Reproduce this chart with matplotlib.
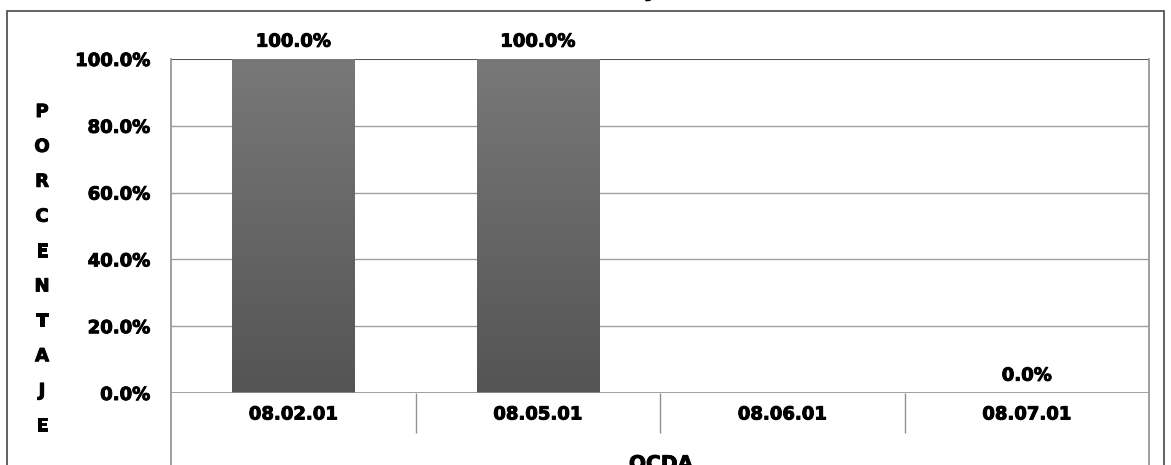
import matplotlib.pyplot as plt
from matplotlib.colors import LinearSegmentedColormap
from matplotlib.patches import Rectangle
from matplotlib.lines import Line2D
import matplotlib.patheffects as pe
import numpy as np

categories = ["08.02.01", "08.05.01", "08.06.01", "08.07.01"]
values = [100.0, 100.0, np.nan, 0.0]
yticks = [0, 20, 40, 60, 80, 100]
ylabel_letters = list("PORCENTAJE")

W, H = 1171, 465
fig = plt.figure(figsize=(W / 100, H / 100), dpi=100)
fig.patch.set_facecolor("white")

thick = [pe.withStroke(linewidth=0.7, foreground="black")]
font = dict(family="DejaVu Sans", weight="bold", path_effects=thick)

def fx(px):
    return px / W

def fy(py):
    return 1 - py / H

ax = fig.add_axes([fx(171), fy(393), fx(1149) - fx(171), fy(59) - fy(393)])

# outer frame
fig.patches.append(Rectangle((fx(7), fy(470)), fx(1164) - fx(7), fy(11) - fy(470),
                             transform=fig.transFigure, fill=False,
                             edgecolor="#555555", linewidth=1.3))

# grid
for t in yticks[1:-1]:
    ax.axhline(t, color="#a0a0a0", linewidth=1.0, zorder=1)
ax.axhline(100, color="#555555", linewidth=1.5, zorder=1)
ax.axhline(0, color="#909090", linewidth=1.2, zorder=3)

# gradient bars
cmap = LinearSegmentedColormap.from_list("g", ["#545454", "#787878"])
grad = np.linspace(0, 1, 256).reshape(-1, 1)
xs = np.arange(len(categories))
for x, v in zip(xs, values):
    if np.isnan(v) or v <= 0:
        continue
    bar = ax.bar(x, v, width=0.5, color="none", edgecolor="none", zorder=2)[0]
    im = ax.imshow(grad, cmap=cmap, aspect="auto", origin="lower",
                   extent=(x - 0.25, x + 0.25, 0, v), zorder=2)
    im.set_clip_path(bar)
ax.set_xlim(-0.5, len(categories) - 0.5)
ax.set_ylim(0, 100)

# data labels
for x, v in zip(xs, values):
    if np.isnan(v):
        continue
    ax.annotate(f"{v:.1f}%", (x, v), xytext=(0, 6), textcoords="offset points",
                ha="center", va="bottom", fontsize=13, **font)

for s in ax.spines.values():
    s.set_visible(False)

ax.set_yticks(yticks)
ax.set_yticklabels([f"{t:.1f}%" for t in yticks])
ax.tick_params(axis="y", length=0, pad=15)
for lab in ax.get_yticklabels():
    lab.set(fontsize=13, fontweight="bold", path_effects=thick)

ax.set_xticks(xs)
ax.set_xticklabels(categories)
ax.tick_params(axis="x", which="major", length=0, pad=9)
for lab in ax.get_xticklabels():
    lab.set(fontsize=13, fontweight="bold", path_effects=thick)
ax.set_xticks(np.arange(0.5, len(categories) - 0.5), minor=True)
ax.tick_params(axis="x", which="minor", length=29, width=1.0, color="#909090",
               direction="out")

# side lines of the plot/table box
fig.add_artist(Line2D([fx(171), fx(171)], [fy(59), fy(470)], color="#909090", linewidth=1.2))
fig.add_artist(Line2D([fx(1149), fx(1149)], [fy(59), fy(470)], color="#909090", linewidth=1.2))

# vertical y-axis label
ys = np.linspace(112, 426, len(ylabel_letters))
for letter, y in zip(ylabel_letters, ys):
    fig.text(fx(42), fy(y), letter, ha="center", va="center", fontsize=13, **font)

# x-axis title (cut at bottom) and chart title (cut at top)
fig.text(fx(661), fy(470), "OCDA", ha="center", va="baseline", fontsize=14.5, **font)
fig.text(fx(602), fy(-4), "Porcentaje", ha="center", va="baseline", fontsize=16, **font)

fig.savefig("out.png", dpi=100)
